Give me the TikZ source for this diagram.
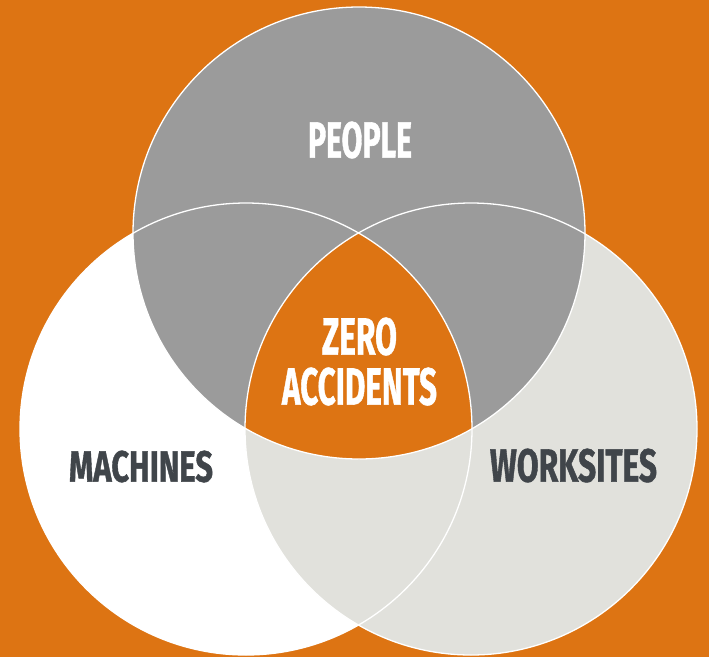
\documentclass[tikz,border=0pt]{standalone}
\usepackage{fontspec}
\usepackage{graphicx}
\newfontfamily\labelfont[BoldFeatures={FakeBold=1.2}]{Fira Sans}
\definecolor{bgorange}{HTML}{DD7413}
\definecolor{topgray}{HTML}{9B9B9B}
\definecolor{lightgray}{HTML}{E1E1DC}
\definecolor{darktext}{HTML}{40454A}
\tikzset{
  ring/.style={draw=white, line width=1.3pt},
  lbl/.style={inner sep=0pt, outer sep=0pt, anchor=center},
}
\newcommand{\fitlabel}[3]{\resizebox{#1pt}{#2pt}{\labelfont\bfseries #3}}
\begin{document}
\begin{tikzpicture}[x=1pt,y=-1pt]
  \fill[bgorange] (0,0) rectangle (709,657);
  \useasboundingbox (0,0) rectangle (709,657);
  \coordinate (ct) at (359,233);
  \coordinate (cl) at (246,429);
  \coordinate (cr) at (471,429);
  \def\R{226}
  % circle fills
  \fill[white] (cl) circle (\R);
  \fill[lightgray] (cr) circle (\R);
  \fill[topgray] (ct) circle (\R);
  % centre region
  \begin{scope}
    \clip (cl) circle (\R);
    \clip (cr) circle (\R);
    \fill[bgorange] (ct) circle (\R);
  \end{scope}
  % outlines
  \draw[ring] (cl) circle (\R);
  \draw[ring] (cr) circle (\R);
  \draw[ring] (ct) circle (\R);
  % labels
  \node[lbl, text=white] (people) at (360,140) {\fitlabel{104}{36}{PEOPLE}};
  \node[lbl, text=white] (zero) at (359.5,336.5) {\fitlabel{75}{37}{ZERO}};
  \node[lbl, text=white] (acc) at (359.5,386.5) {\fitlabel{155}{37}{ACCIDENTS}};
  \node[lbl, text=darktext] (mach) at (141,466.5) {\fitlabel{144}{31}{MACHINES}};
  \node[lbl, text=darktext] (work) at (573.5,465.5) {\fitlabel{167}{33}{WORKSITES}};
\end{tikzpicture}
\end{document}
